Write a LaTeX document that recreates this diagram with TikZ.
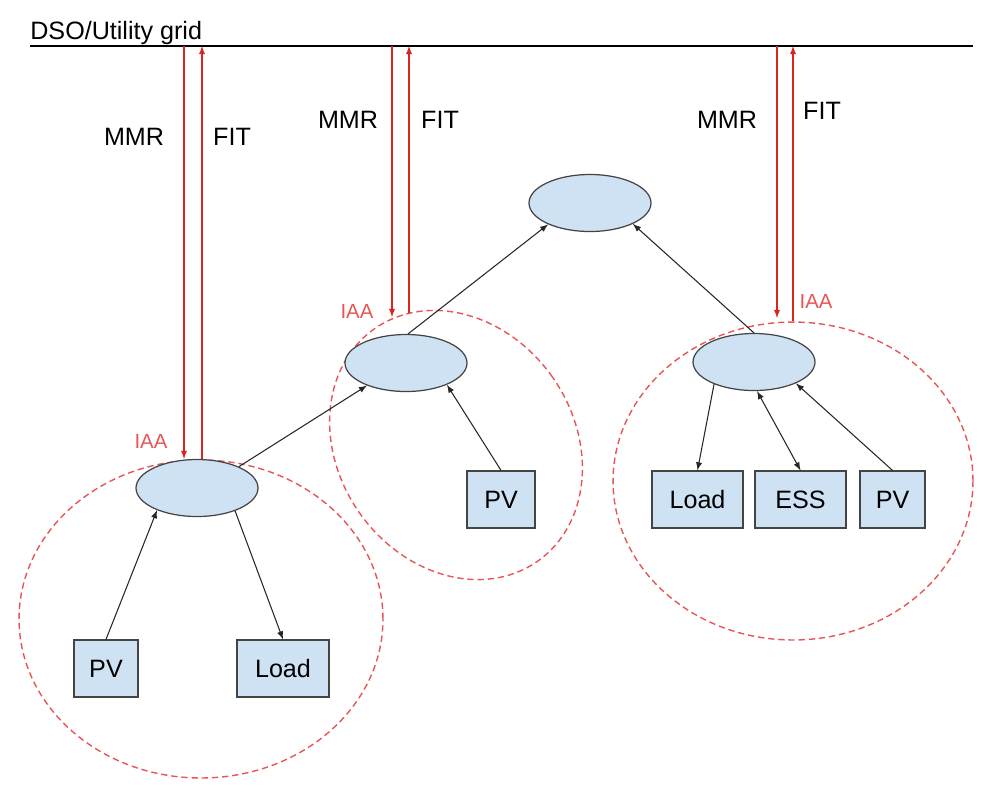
\documentclass[tikz,border=0pt]{standalone}
\usepackage{fontspec}
\setmainfont{Liberation Sans}
\usetikzlibrary{shapes.geometric}
\definecolor{boxblue}{HTML}{CFE2F3}
\definecolor{edgegray}{HTML}{444444}
\definecolor{msgred}{HTML}{DD2222}
\definecolor{iaared}{HTML}{E85555}
\begin{document}
\begin{tikzpicture}[x=0.02cm,y=-0.02cm,>=latex,
    aggsty/.style={ellipse,draw=edgegray,fill=boxblue,line width=.7pt,minimum
      width=2.44cm,minimum height=1.14cm,inner sep=0pt},
    devsty/.style={draw=edgegray,fill=boxblue,line width=.7pt,minimum
      height=1.14cm,inner sep=0pt,font=\fontsize{14.3}{17}\selectfont},
    clsty/.style={ellipse,draw=iaared,dash pattern=on 3.6pt off 2.2pt,line
      width=.8pt,inner sep=0pt},
    lblsty/.style={font=\fontsize{14.3}{17}\selectfont},
    iaasty/.style={text=iaared,font=\fontsize{11.6}{14}\selectfont},
    msgsty/.style={->,draw=msgred,line width=.6pt},
    linksty/.style={line width=.6pt,draw=black!85}]
    \useasboundingbox (0,0) rectangle (999,796);
    % grid
    \coordinate (g0) at (30,46);
    \coordinate (g1) at (973,46);
    \draw[line width=.7pt] (g0) -- (g1);
    \node[lblsty,anchor=base west,inner sep=0pt] (dso) at (30,39) {DSO/Utility grid};

    % clusters
    \node[clsty,minimum width=7.28cm,minimum height=6.36cm] (cl) at (201,619) {};
    \node[clsty,minimum width=4.72cm,minimum height=5.68cm,rotate=35] (cm) at (456,445) {};
    \node[clsty,minimum width=7.2cm,minimum height=6.36cm] (cr) at (793,481) {};

    % aggregators
    \node[aggsty] (et) at (590,203) {};
    \node[aggsty] (em) at (406,363) {};
    \node[aggsty] (el) at (197,488) {};
    \node[aggsty] (er) at (754,362) {};

    % devices
    \node[devsty,minimum width=1.28cm] (pvl) at (106,668.5) {PV};
    \node[devsty,minimum width=1.84cm] (ldl) at (283,668.5) {Load};
    \node[devsty,minimum width=1.36cm] (pvm) at (501,499.5) {PV};
    \node[devsty,minimum width=1.82cm] (ldr) at (697.5,499.5) {Load};
    \node[devsty,minimum width=1.82cm] (ess) at (800.5,499.5) {ESS};
    \node[devsty,minimum width=1.3cm] (pvr) at (892.5,499.5) {PV};

    % links
    \draw[->,linksty] (el.27) -- (em.210);
    \draw[->,linksty] (em.86) -- (et.207);
    \draw[->,linksty] (er.north) -- (et.334);
    \draw[->,linksty] (pvl.north) -- (el.209);
    \draw[->,linksty] (el.329) -- (ldl.north);
    \draw[->,linksty] (pvm.north) -- (em.332);
    \draw[->,linksty] (er.209) -- (ldr.north);
    \draw[<->,linksty] (ess.north) -- (er.276);
    \draw[->,linksty] (pvr.north) -- (er.333);

    % MMR / FIT left
    \coordinate (mmrl) at (184,46);
    \coordinate (fitl) at (202,46);
    \draw[msgsty] (mmrl) -- (el.north -| mmrl);
    \draw[msgsty] (el.north -| fitl) -- (fitl);
    \node[lblsty] (mmrtl) at (134,137) {MMR};
    \node[lblsty] (fittl) at (232,137) {FIT};
    \node[iaasty] (iaal) at (151,441) {IAA};

    % MMR / FIT middle
    \coordinate (mmrm) at (392,46);
    \coordinate (fitm) at (409,46);
    \coordinate (mmrmb) at (392,317);
    \coordinate (fitmb) at (409,313);
    \draw[msgsty] (mmrm) -- (mmrmb);
    \draw[msgsty] (fitmb) -- (fitm);
    \node[lblsty] (mmrtm) at (348,120) {MMR};
    \node[lblsty] (fittm) at (440,120) {FIT};
    \node[iaasty] (iaam) at (357,311) {IAA};

    % MMR / FIT right
    \coordinate (mmrr) at (777,46);
    \coordinate (fitr) at (793,46);
    \coordinate (mmrrb) at (777,318);
    \draw[msgsty] (mmrr) -- (mmrrb);
    \draw[msgsty] (cr.north) -- (fitr);
    \node[lblsty] (mmrtr) at (727,120) {MMR};
    \node[lblsty] (fittr) at (822,111) {FIT};
    \node[iaasty] (iaar) at (816,301) {IAA};
  \end{tikzpicture}
\end{document}
